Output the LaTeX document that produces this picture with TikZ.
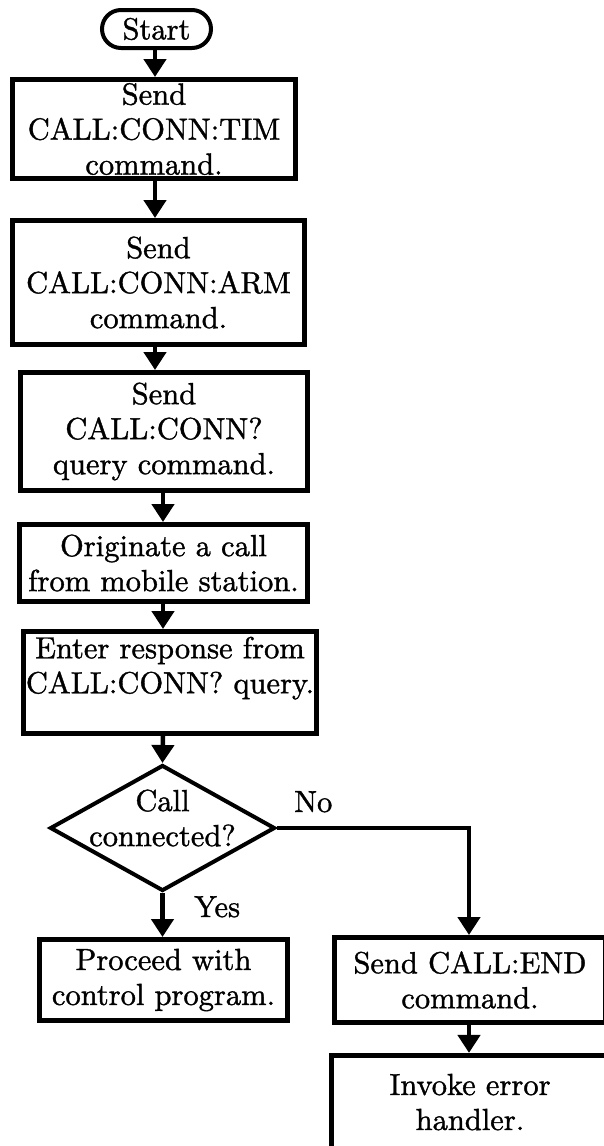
\documentclass[tikz,border=0pt]{standalone}
\usepackage{fontspec}
\setmainfont{lmroman10-regular.otf}[FakeBold=1.2]
\usetikzlibrary{arrows.meta,shapes.geometric}
\begin{document}
\begin{tikzpicture}[x=1pt,y=-1pt,
  every node/.style={font=\fontsize{30.5}{35}\selectfont},
  box/.style={draw, line width=5pt, rectangle, align=center, inner sep=2pt},
  terminal/.style={draw, line width=4pt, rounded corners=19pt, inner sep=0pt},
  decision/.style={diamond, draw, line width=4pt, inner sep=0pt},
  lbl/.style={anchor=base west, inner sep=0pt},
  arr/.style={line width=4.5pt, -{Triangle[width=22pt,length=18pt]}}]
\useasboundingbox (0,0) rectangle (604,1146);
\clip (0,0) rectangle (604,1146);
\fill[white] (0,0) rectangle (604,1146);

\coordinate (cA) at (155,0);
\coordinate (cB) at (163,0);
\coordinate (cC) at (469,0);

\node[terminal, minimum width=109pt, minimum height=38pt] (start) at (156.5,29) {Start};
\node[box, minimum width=283pt, minimum height=99pt] (b1) at (154,129) {Send\\CALL:CONN:TIM\\command.};
\node[box, minimum width=292pt, minimum height=124pt] (b2) at (158.5,282.5) {Send\\CALL:CONN:ARM\\command.};
\node[box, minimum width=287pt, minimum height=118pt] (b3) at (164,431.5) {Send\\CALL:CONN?\\query command.};
\node[box, minimum width=288pt, minimum height=77pt] (b4) at (163.5,563) {Originate a call\\from mobile station.};
\node[box, minimum width=291pt, minimum height=102pt] (b5) at (170,682.5) {Enter response from\\CALL:CONN? query.\\\mbox{}};
\node[decision, minimum width=225pt, minimum height=126pt] (dec) at (162.5,828) {};
\node[align=center, inner sep=0pt] (dectext) at ([yshift=10pt]dec.center) {Call\\connected?};
\node[box, minimum width=248pt, minimum height=81pt] (proc) at (163.5,980) {Proceed with\\control program.};
\node[box, minimum width=271pt, minimum height=85pt] (send) at (470,980) {Send CALL:END\\command.};
\node[box, minimum width=277pt, minimum height=128pt] (inv) at (470,1119.4) {Invoke error\\handler.\\\mbox{}};

\node[lbl] (no) at (294,812) {No};
\node[lbl] (yes) at (194,917) {Yes};

\draw[arr] (start.south -| cA) -- (b1.north -| cA);
\draw[arr] (b1.south -| cA) -- (b2.north -| cA);
\draw[arr] (b2.south -| cA) -- (b3.north -| cA);
\draw[arr] (b3.south -| cB) -- (b4.north -| cB);
\draw[arr] (b4.south -| cB) -- (b5.north -| cB);
\draw[arr] (b5.south -| cB) -- (dec.north);
\draw[arr] (dec.south) -- (proc.north -| dec.south);
\draw[arr] (dec.east) -| (send.north -| cC);
\draw[arr] (send.south -| cC) -- (inv.north -| cC);
\end{tikzpicture}
\end{document}
